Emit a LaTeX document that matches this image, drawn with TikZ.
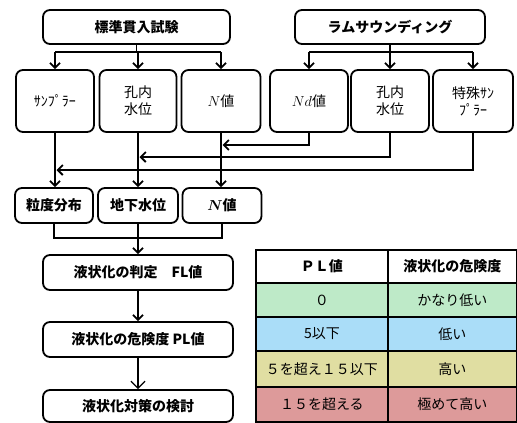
\documentclass[tikz,border=0pt]{standalone}
\usepackage{fontspec}
\setmainfont{Noto Sans CJK JP}
\usetikzlibrary{arrows.meta}
\definecolor{cgreen}{HTML}{BEEAC8}
\definecolor{cblue}{HTML}{AADDF8}
\definecolor{cyellow}{HTML}{E0DEA2}
\definecolor{cred}{HTML}{DD9A9A}
\begin{document}
\begin{tikzpicture}[x=1pt,y=-1pt,
  box/.style={draw, line width=1.8pt, rounded corners=7pt, inner sep=0pt, align=center, font=\fontsize{14}{17}\selectfont},
  bbox/.style={box, font=\fontsize{14}{17}\selectfont\bfseries\boldmath},
  conn/.style={line width=1.8pt},
  arr/.style={conn, -{Straight Barb[length=5pt,width=10pt]}},
  cell/.style={draw, line width=1.8pt, inner sep=0pt, anchor=north west, font=\fontsize{14}{17}\selectfont},
]
\useasboundingbox (0,0) rectangle (517,423);
% top boxes
\node[bbox, minimum width=187pt, minimum height=34pt] (std) at (136.5,27) {標準貫入試験};
\node[bbox, minimum width=190pt, minimum height=34pt] (ram) at (390,27) {ラムサウンディング};
% row 2
\node[box, minimum width=78pt, minimum height=62pt] (samp) at (55,101) {ｻﾝﾌﾟﾗｰ};
\node[box, minimum width=77pt, minimum height=62pt] (kw1) at (138,101) {孔内\\水位};
\node[box, minimum width=79pt, minimum height=62pt] (n1) at (221,101) {$N$値};
\node[box, minimum width=78pt, minimum height=62pt] (nd) at (309,101) {$Nd$値};
\node[box, minimum width=78pt, minimum height=62pt] (kw2) at (390,101) {孔内\\水位};
\node[box, minimum width=80pt, minimum height=62pt] (tok) at (473,101) {特殊ｻﾝ\\ﾌﾟﾗｰ};
% row 3
\node[bbox, minimum width=78pt, minimum height=35pt] (ryu) at (54,205.5) {粒度分布};
\node[bbox, minimum width=80pt, minimum height=35pt] (chika) at (138,205.5) {地下水位};
\node[bbox, minimum width=79pt, minimum height=35pt] (n2) at (222,205.5) {$N$値};
% lower chain
\node[bbox, minimum width=190pt, minimum height=35pt] (fl) at (138,272.5) {液状化の判定　FL値};
\node[bbox, minimum width=190pt, minimum height=35pt] (pl) at (138,339.5) {液状化の危険度 PL値};
\node[bbox, minimum width=190pt, minimum height=32pt] (tai) at (138,406) {液状化対策の検討};
% distribution lines
\coordinate (sj) at (137,52);
\draw[conn] (std.south) -- (std.south |- sj);
\draw[conn] (samp.north |- sj) -- (n1.north |- sj);
\draw[arr] (samp.north |- sj) -- (samp.north);
\draw[arr] (kw1.north |- sj) -- (kw1.north);
\draw[arr] (n1.north |- sj) -- (n1.north);
\coordinate (rj) at (390,52);
\draw[conn] (ram.south) -- (ram.south |- rj);
\draw[conn] (nd.north |- rj) -- (tok.north |- rj);
\draw[arr] (nd.north |- rj) -- (nd.north);
\draw[arr] (kw2.north |- rj) -- (kw2.north);
\draw[arr] (tok.north |- rj) -- (tok.north);
% down to row 3
\draw[arr] (samp.south) -- (samp.south |- ryu.north);
\draw[arr] (kw1.south) -- (kw1.south |- chika.north);
\draw[arr] (n1.south) -- (n1.south |- n2.north);
% cross feeds
\draw[arr, shorten >=1.5pt] (nd.south) |- (n1.south |- 0,145);
\draw[arr, shorten >=1.5pt] (kw2.south) |- (kw1.south |- 0,157);
\draw[arr, shorten >=1.5pt] (tok.south) |- (samp.south |- 0,170);
% merge
\draw[conn] (ryu.south) |- (n2.south |- 0,238) -- (n2.south);
\draw[arr] (chika.south) -- (chika.south |- fl.north);
\draw[arr] (fl.south) -- (pl.north);
\draw[line width=1.3pt, -{Straight Barb[length=7pt,width=14pt]}] (pl.south) -- (tai.north);
% table
\node[cell, fill=white, minimum width=132pt, minimum height=33pt] (h1) at (255,249) {\bfseries ＰＬ値};
\node[cell, fill=white, minimum width=129pt, minimum height=33pt] (h2) at (387,249) {\bfseries 液状化の危険度};
\node[cell, fill=cgreen, minimum width=132pt, minimum height=34pt] (a1) at (255,282) {０};
\node[cell, fill=cgreen, minimum width=129pt, minimum height=34pt] (a2) at (387,282) {かなり低い};
\node[cell, fill=cblue, minimum width=132pt, minimum height=34pt] (b1) at (255,316) {5以下};
\node[cell, fill=cblue, minimum width=129pt, minimum height=34pt] (b2) at (387,316) {低い};
\node[cell, fill=cyellow, minimum width=132pt, minimum height=36pt] (c1) at (255,350) {５を超え１５以下};
\node[cell, fill=cyellow, minimum width=129pt, minimum height=36pt] (c2) at (387,350) {高い};
\node[cell, fill=cred, minimum width=132pt, minimum height=35pt] (d1) at (255,386) {１５を超える};
\node[cell, fill=cred, minimum width=129pt, minimum height=35pt] (d2) at (387,386) {極めて高い};
\end{tikzpicture}
\end{document}
